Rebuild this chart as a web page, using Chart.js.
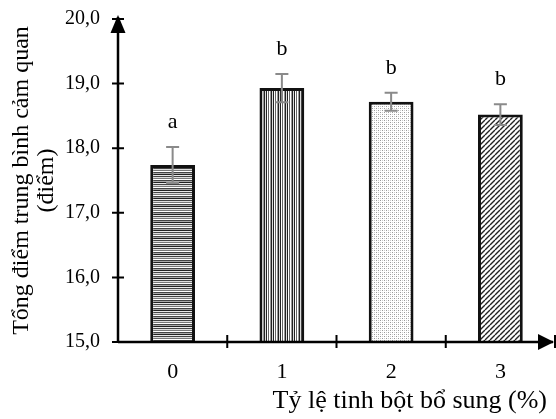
<!DOCTYPE html>
<html>
<head>
<meta charset="utf-8">
<script src="https://cdn.jsdelivr.net/npm/chart.js@4"></script>
<style>
  html, body { margin: 0; padding: 0; background: #fff; }
  #wrap { width: 556px; height: 419px; }
</style>
</head>
<body>
<div id="wrap"><canvas id="chart" width="556" height="419"></canvas></div>
<script>
const categories = ['0', '1', '2', '3'];
const means = [17.74, 18.93, 18.72, 18.52];
const errors = [0.28, 0.22, 0.14, 0.16];
const letters = ['a', 'b', 'b', 'b'];
const yTicks = [15, 16, 17, 18, 19, 20];
const xTitle = 'Tỷ lệ tinh bột bổ sung (%)';

const SERIF = "'Liberation Serif', 'Times New Roman', serif";

function makeTile(w, h, draw) {
  const c = document.createElement('canvas');
  c.width = w;
  c.height = h;
  const g = c.getContext('2d');
  g.fillStyle = '#fff';
  g.fillRect(0, 0, w, h);
  draw(g);
  return c;
}

function buildPatterns(ctx) {
  // horizontal stripes
  const rows = ['#444', '#ddd', '#777', '#fff', '#444', '#aaa', '#222', '#e8e8e8'];
  const hTile = makeTile(4, rows.length, (g) => {
    rows.forEach((c, i) => { g.fillStyle = c; g.fillRect(0, i, 4, 1); });
  });
  // vertical stripes
  const cols = ['#222', '#fff', '#666', '#fff', '#999', '#222', '#ddd'];
  const vTile = makeTile(cols.length, 4, (g) => {
    cols.forEach((c, i) => { g.fillStyle = c; g.fillRect(i, 0, 1, 4); });
  });
  // light dots
  const dTile = makeTile(4, 4, (g) => {
    g.fillStyle = '#999';
    g.fillRect(0, 0, 1, 1);
    g.fillRect(2, 2, 1, 1);
    g.fillStyle = '#ccc';
    g.fillRect(2, 0, 1, 1);
    g.fillRect(0, 2, 1, 1);
  });
  // diagonal hatch
  const sTile = makeTile(5, 5, (g) => {
    g.strokeStyle = '#222';
    g.lineWidth = 1.4;
    g.beginPath();
    for (let k = -5; k <= 10; k += 5) {
      g.moveTo(k, 5);
      g.lineTo(k + 5, 0);
    }
    g.stroke();
  });
  return [hTile, vTile, dTile, sTile].map((t) => ctx.createPattern(t, 'repeat'));
}

const errorBars = {
  id: 'errorBars',
  afterDatasetsDraw(chart) {
    const { ctx, scales: { y } } = chart;
    const meta = chart.getDatasetMeta(0);
    ctx.save();
    meta.data.forEach((bar, i) => {
      const top = y.getPixelForValue(means[i] + errors[i]);
      const bot = y.getPixelForValue(means[i] - errors[i]);
      ctx.strokeStyle = '#8a8a8a';
      ctx.lineWidth = 2;
      ctx.beginPath();
      ctx.moveTo(bar.x, top);
      ctx.lineTo(bar.x, bot);
      ctx.moveTo(bar.x - 6.5, top);
      ctx.lineTo(bar.x + 6.5, top);
      ctx.moveTo(bar.x - 6.5, bot);
      ctx.lineTo(bar.x + 6.5, bot);
      ctx.stroke();

      ctx.fillStyle = '#000';
      ctx.font = '22px ' + SERIF;
      ctx.textAlign = 'center';
      ctx.textBaseline = 'alphabetic';
      ctx.fillText(letters[i], bar.x, top - 19);
    });
    ctx.restore();
  }
};

const arrowAxes = {
  id: 'arrowAxes',
  afterDraw(chart) {
    const { ctx, chartArea: a, scales: { x, y } } = chart;
    ctx.save();
    ctx.strokeStyle = '#000';
    ctx.fillStyle = '#000';
    ctx.lineWidth = 2.5;
    ctx.beginPath();
    ctx.moveTo(a.left, a.bottom);
    ctx.lineTo(a.left, a.top - 2);
    ctx.moveTo(a.left, a.bottom);
    ctx.lineTo(a.right - 2, a.bottom);
    ctx.stroke();

    ctx.lineWidth = 2;
    ctx.beginPath();
    y.ticks.forEach((t) => {
      const py = y.getPixelForValue(t.value);
      ctx.moveTo(a.left - 6, py);
      ctx.lineTo(a.left + 6, py);
    });
    const half = (x.getPixelForValue(1) - x.getPixelForValue(0)) / 2;
    categories.forEach((c, i) => {
      const px = x.getPixelForValue(i) + half;
      ctx.moveTo(px, a.bottom - 7);
      ctx.lineTo(px, a.bottom + 6);
    });
    ctx.stroke();

    // arrow heads
    ctx.beginPath();
    ctx.moveTo(a.left, a.top - 4);
    ctx.lineTo(a.left - 7.5, a.top + 14);
    ctx.lineTo(a.left + 7.5, a.top + 14);
    ctx.closePath();
    ctx.fill();
    ctx.beginPath();
    ctx.moveTo(a.right - 1, a.bottom);
    ctx.lineTo(a.right - 17, a.bottom - 8);
    ctx.lineTo(a.right - 17, a.bottom + 8);
    ctx.closePath();
    ctx.fill();

    // x axis title, right aligned under the axis
    ctx.font = '26px ' + SERIF;
    ctx.textAlign = 'right';
    ctx.textBaseline = 'alphabetic';
    ctx.fillText(xTitle, a.right - 8, x.bottom - 11);
    ctx.restore();
  }
};

const ctx = document.getElementById('chart').getContext('2d');
const patterns = buildPatterns(ctx);

new Chart(ctx, {
  type: 'bar',
  data: {
    labels: categories,
    datasets: [{
      data: means,
      backgroundColor: patterns,
      borderColor: '#111',
      borderWidth: 3,
      borderSkipped: false,
      barPercentage: 0.41,
      categoryPercentage: 1
    }]
  },
  options: {
    responsive: false,
    animation: false,
    layout: { padding: { left: 0, right: 1, top: 19, bottom: 0 } },
    plugins: {
      legend: { display: false },
      tooltip: { enabled: false }
    },
    scales: {
      x: {
        grid: { display: false },
        border: { display: false },
        ticks: { color: '#000', font: { family: SERIF, size: 22 }, padding: 9 },
        afterFit(scale) { scale.height = 77; }
      },
      y: {
        min: 15,
        max: 20,
        grid: { display: false },
        border: { display: false },
        afterBuildTicks(scale) { scale.ticks = yTicks.map((v) => ({ value: v })); },
        ticks: {
          color: '#000',
          font: { family: SERIF, size: 20 },
          padding: 10,
          callback: (v) => Number(v).toFixed(1).replace('.', ',')
        },
        title: {
          display: true,
          text: ['Tổng điểm trung bình cảm quan', '(điểm)'],
          color: '#000',
          font: { family: SERIF, size: 24, lineHeight: 1.05 },
          padding: { top: 9, bottom: 0 }
        },
        afterFit(scale) {
          scale.width = 118;
          scale.paddingTop = 0;
          scale.paddingBottom = 0;
        }
      }
    }
  },
  plugins: [errorBars, arrowAxes]
});
</script>
</body>
</html>
